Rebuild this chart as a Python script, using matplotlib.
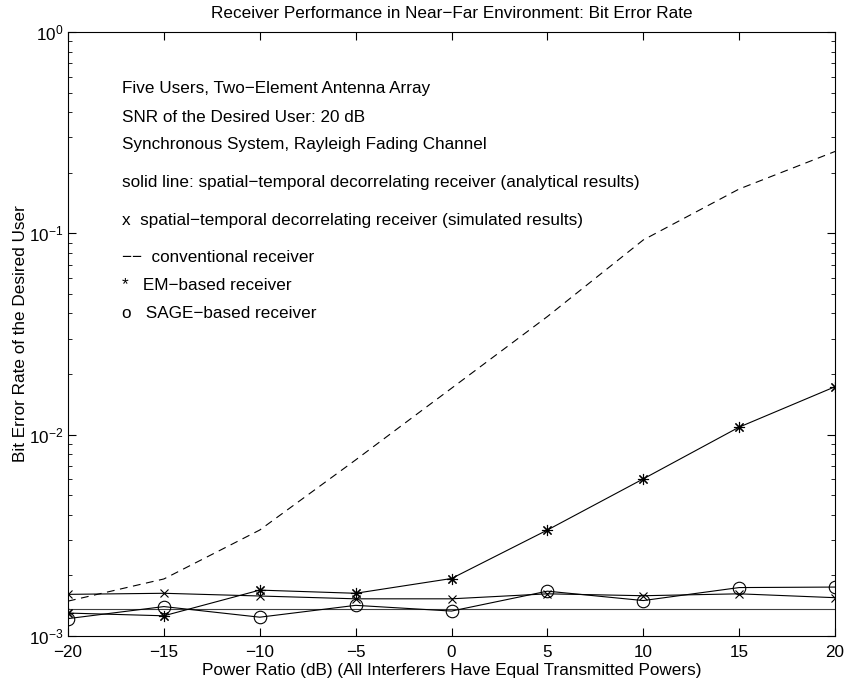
import matplotlib
matplotlib.use('Agg')
import matplotlib.pyplot as plt
import numpy as np

plt.rcParams['font.family'] = ['Liberation Sans', 'DejaVu Sans']
plt.rcParams['mathtext.fontset'] = 'custom'
plt.rcParams['mathtext.rm'] = 'Liberation Sans'
plt.rcParams['mathtext.it'] = 'Liberation Sans'

# 数据
power_ratio = [-20, -15, -10, -5, 0, 5, 10, 15, 20]
analytical = [1.36e-3, 1.36e-3, 1.36e-3, 1.36e-3, 1.36e-3, 1.36e-3, 1.36e-3, 1.36e-3, 1.36e-3]
simulated = [1.61e-3, 1.63e-3, 1.58e-3, 1.53e-3, 1.53e-3, 1.62e-3, 1.585e-3, 1.62e-3, 1.55e-3]
conventional = [1.49e-3, 1.92e-3, 3.36e-3, 7.49e-3, 1.70e-2, 3.86e-2, 9.27e-2, 0.166, 0.255]
em_based = [1.30e-3, 1.26e-3, 1.69e-3, 1.63e-3, 1.93e-3, 3.36e-3, 6.03e-3, 1.09e-2, 1.73e-2]
sage_based = [1.22e-3, 1.40e-3, 1.24e-3, 1.42e-3, 1.33e-3, 1.67e-3, 1.50e-3, 1.74e-3, 1.75e-3]

notes = ['Five Users, Two\u2212Element Antenna Array',
         'SNR of the Desired User: 20 dB',
         'Synchronous System, Rayleigh Fading Channel',
         'solid line: spatial\u2212temporal decorrelating receiver (analytical results)',
         'x  spatial\u2212temporal decorrelating receiver (simulated results)',
         '\u2212\u2212  conventional receiver',
         '*   EM\u2212based receiver',
         'o   SAGE\u2212based receiver']
note_y = [88, 117, 145, 183, 221, 257, 285, 313]

fs = 12.3

fig = plt.figure(figsize=(8.48, 6.86), dpi=100)
ax = fig.add_axes([68 / 848, 1 - 636 / 686, (835 - 68) / 848, (636 - 32) / 686])

lw = 0.8
ax.semilogy(power_ratio, analytical, '-', color='#404040', linewidth=lw)
ax.semilogy(power_ratio, simulated, 'k-x', linewidth=lw, markersize=6, markeredgewidth=0.8)
ax.semilogy(power_ratio, conventional, 'k--', linewidth=lw, dashes=(7, 5))
ax.semilogy(power_ratio, em_based, 'k-', marker=(8, 2, 0), linewidth=lw,
            markersize=8, markeredgewidth=0.8)
ax.semilogy(power_ratio, sage_based, 'k-o', linewidth=lw, markersize=9,
            markerfacecolor='none', markeredgewidth=0.8)

ax.set_xlim(-20, 20)
ax.set_ylim(1e-3, 1e0)
ax.set_xticks(np.arange(-20, 21, 5))
ax.set_xticklabels(['\u221220', '\u221215', '\u221210', '\u22125', '0', '5', '10', '15', '20'])

ax.tick_params(which='both', direction='in', top=True, right=True, labelsize=fs)
ax.tick_params(which='major', length=5.8, width=0.8)
ax.tick_params(which='minor', length=2.9, width=0.6)
ax.tick_params(axis='x', pad=6.5)
for s in ax.spines.values():
    s.set_linewidth(0.8)

# 注释文字（像素坐标转换）
for txt, yp in zip(notes, note_y):
    fig.text(122 / 848, 1 - yp / 686, txt, fontsize=fs, va='center', ha='left')

ax.set_title('Receiver Performance in Near\u2212Far Environment: Bit Error Rate', fontsize=fs, pad=10)
ax.set_xlabel('Power Ratio (dB) (All Interferers Have Equal Transmitted Powers)', fontsize=fs, labelpad=2.5)
ax.set_ylabel('Bit Error Rate of the Desired User', fontsize=fs, labelpad=0.5)

plt.savefig('out.png', dpi=100)
plt.close()
